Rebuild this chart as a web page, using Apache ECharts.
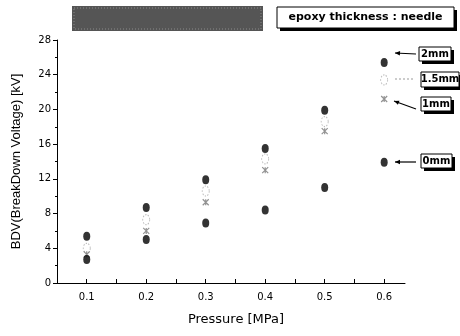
<!DOCTYPE html>
<html><head><meta charset="utf-8">
<script src="https://cdn.jsdelivr.net/npm/echarts@6/dist/echarts.min.js"></script>
<style>html,body{margin:0;padding:0;background:#fff}#c{width:460px;height:336px}</style>
</head><body><div id="c"></div>
<script>
const pressure = [0.1, 0.2, 0.3, 0.4, 0.5, 0.6];
const bdv2mm  = [5.4, 8.7, 11.9, 15.5, 19.9, 25.4];
const bdv15mm = [4.0, 7.3, 10.6, 14.3, 18.6, 23.4];
const bdv1mm  = [3.3, 6.0, 9.3, 13.0, 17.5, 21.2];
const bdv0mm  = [2.7, 5.0, 6.9, 8.4, 11.0, 13.9];
const seriesNames = ['2mm', '1.5mm', '1mm', '0mm'];
const legendTitle = 'epoxy thickness : needle';

const pair = (ys) => pressure.map((x, i) => [x, ys[i]]);
const chart = echarts.init(document.getElementById('c'), null, {renderer: 'canvas'});
const F = 'Liberation Sans, Arial, sans-serif';
const D = 'DejaVu Sans, sans-serif';
const box = (x, y, w, h, text, fs) => [
  {type: 'rect', shape: {x: x + 3, y: y + 3, width: w, height: h}, style: {fill: '#000'}, z: 10},
  {type: 'rect', shape: {x: x, y: y, width: w, height: h}, style: {fill: '#fff', stroke: '#000', lineWidth: 1}, z: 11},
  {type: 'text', x: x + w / 2, y: y + h / 2, style: {text: text, fill: '#000', font: 'bold ' + fs + 'px DejaVu Sans', align: 'center', verticalAlign: 'middle'}, z: 12}
];
const arrow = (x1, y1, x2, y2, dashed) => {
  const els = [{type: 'line', shape: {x1: x1, y1: y1, x2: x2, y2: y2}, style: {stroke: dashed ? '#999' : '#000', lineWidth: 1.2, lineDash: dashed ? [2, 2] : null}, z: 9}];
  if (!dashed) {
    const a = Math.atan2(y2 - y1, x2 - x1), L = 5, W = 2.2;
    const bx = x2 - L * Math.cos(a), by = y2 - L * Math.sin(a);
    const px = -Math.sin(a) * W, py = Math.cos(a) * W;
    els.push({type: 'polygon', shape: {points: [[x2, y2], [bx + px, by + py], [bx - px, by - py]]}, style: {fill: '#000'}, z: 9});
  }
  return els;
};

chart.setOption({
  animation: false,
  backgroundColor: '#fff',
  grid: {left: 57, right: 55, top: 40, bottom: 53, containLabel: false},
  xAxis: {
    type: 'value', min: 0.05, max: 0.635, interval: 0.05,
    name: 'Pressure [MPa]', nameLocation: 'middle', nameGap: 30,
    nameTextStyle: {fontFamily: D, fontSize: 13, color: '#000', padding: [0, 0, 0, 10]},
    axisLine: {lineStyle: {color: '#000', width: 1}},
    axisTick: {inside: true, length: 4, lineStyle: {color: '#000'}},
    axisLabel: {fontFamily: D, fontSize: 10, color: '#000', margin: 9, showMaxLabel: false,
      formatter: v => Math.abs(v * 10 - Math.round(v * 10)) < 1e-6 && v > 0.06 ? v.toFixed(1) : ''},
    splitLine: {show: false}
  },
  yAxis: {
    type: 'value', min: 0, max: 28, interval: 4,
    name: 'BDV(BreakDown Voltage) [kV]', nameLocation: 'middle', nameGap: 34, nameRotate: 90,
    nameTextStyle: {fontFamily: F, fontSize: 13, color: '#000'},
    axisLine: {show: true, lineStyle: {color: '#000', width: 1}},
    axisTick: {show: true, length: 4, lineStyle: {color: '#000'}},
    minorTick: {show: true, splitNumber: 2, length: 2, lineStyle: {color: '#000'}},
    axisLabel: {fontFamily: D, fontSize: 10, color: '#000', margin: 6},
    splitLine: {show: false}
  },
  series: [
    {name: seriesNames[0], type: 'scatter', data: pair(bdv2mm), symbol: 'circle', symbolSize: [7, 9], itemStyle: {color: '#000'}, z: 5},
    {name: seriesNames[1], type: 'scatter', data: pair(bdv15mm), symbol: 'circle', symbolSize: [7, 10], itemStyle: {color: '#fff', borderColor: '#aaa', borderWidth: 1, borderType: [1.5, 1.5]}, z: 4},
    {name: seriesNames[2], type: 'scatter', data: pair(bdv1mm), symbol: 'path://M0,0 L10,10 M10,0 L0,10 M5,0 L5,10', symbolSize: [6, 6], itemStyle: {color: 'none', borderColor: '#777', borderWidth: 1.2}, z: 4},
    {name: seriesNames[3], type: 'scatter', data: pair(bdv0mm), symbol: 'circle', symbolSize: [7, 9], itemStyle: {color: '#000'}, z: 5}
  ],
  graphic: [
    {type: 'rect', shape: {x: 72, y: 6, width: 191, height: 25}, style: {fill: '#555'}, z: 10},
    {type: 'rect', shape: {x: 74, y: 8, width: 187, height: 21}, style: {fill: 'none', stroke: '#8a8a8a', lineWidth: 1, lineDash: [1, 2]}, z: 11},
    ...box(277, 7, 177, 21, legendTitle, 11),
    ...box(419, 47, 32, 14, seriesNames[0], 10),
    ...box(421, 72, 38, 15, seriesNames[1], 10),
    ...box(421, 97, 30, 14, seriesNames[2], 10),
    ...box(421, 154, 31, 14, seriesNames[3], 10),
    ...arrow(416, 54, 395, 53, false),
    ...arrow(413, 79, 395, 79, true),
    ...arrow(416, 109, 394, 101, false),
    ...arrow(416, 162, 395, 162, false)
  ]
});
</script></body></html>
